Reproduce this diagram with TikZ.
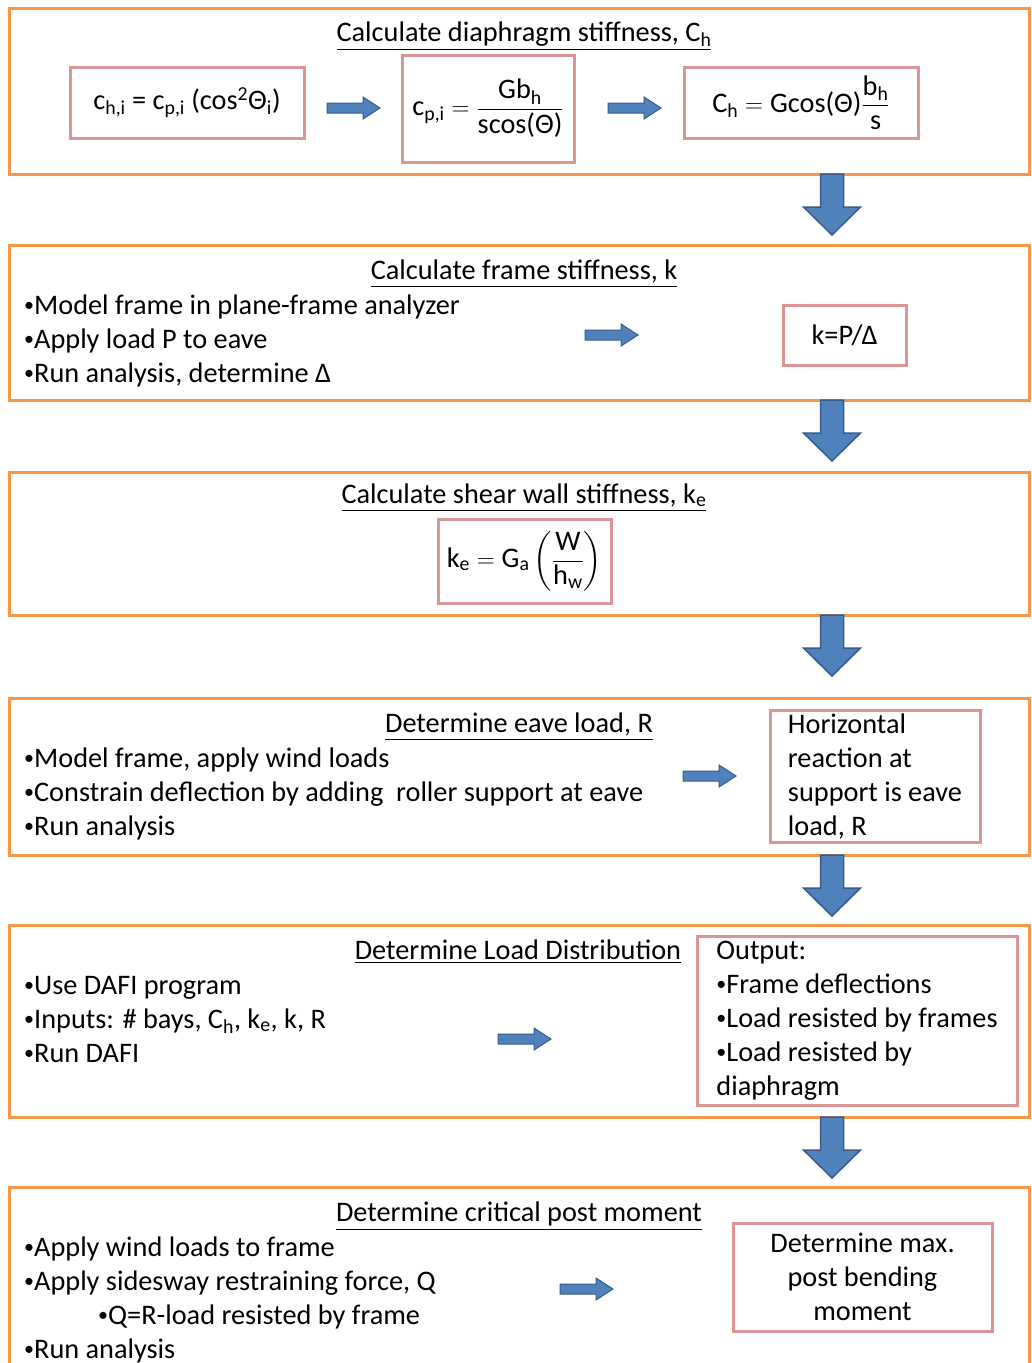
\documentclass[tikz,border=0pt]{standalone}
\usepackage{amsmath}
\usepackage{fontspec}
\setmainfont{Carlito}
\definecolor{orng}{HTML}{F79646}
\definecolor{pinkc}{HTML}{D99694}
\definecolor{arrfill}{HTML}{4F81BD}
\definecolor{arrdraw}{HTML}{385D8A}
\newcommand\fsz{\fontsize{28.3}{34}\selectfont}
\newcommand\bul{{\fontsize{20}{34}\selectfont\raisebox{2.6pt}{•}}}
\begin{document}
\begin{tikzpicture}[x=1pt,y=-1pt,font=\fsz,
  stage/.style={draw=orng,line width=3pt,minimum width=1020pt,outer sep=0pt,inner sep=0pt},
  pinkbox/.style={draw=pinkc,line width=3pt,outer sep=0pt,inner sep=0pt},
  txt/.style={inner sep=0pt,anchor=base west},
  ttl/.style={inner sep=0pt,anchor=base},
  bigarr/.style={fill=arrfill,draw=arrdraw,line width=1.5pt,line join=miter},
  smallarr/.style={fill=arrfill,draw=arrdraw,line width=1pt,line join=miter}]
\useasboundingbox[fill=white] (0,0) rectangle (1031,1363);

% stage boxes
\node[stage,minimum height=166pt] (s1) at (519,91) {};
\node[stage,minimum height=155pt] (s2) at (519,322.5) {};
\node[stage,minimum height=143pt] (s3) at (519,543.5) {};
\node[stage,minimum height=157pt] (s4) at (519,776.5) {};
\node[stage,minimum height=192pt] (s5) at (519,1021) {};
\node[stage,minimum height=186pt] (s6) at (519,1280) {};

% titles
\node[ttl] (t1) at (524,41) {\underline{Calculate diaphragm stiffness, C\textsubscript{h}}};
\node[ttl] (t2) at (524,279) {\underline{Calculate frame stiffness, k}};
\node[ttl] (t3) at (524,503) {\underline{Calculate shear wall stiffness, k\textsubscript{e}}};
\node[ttl] (t4) at (519,732) {\underline{Determine eave load, R}};
\node[ttl] (t5) at (518,959) {\underline{Determine Load Distribution}};
\node[ttl] (t6) at (519,1221) {\underline{Determine critical post moment}};

% stage 1 formulas
\node[pinkbox,minimum width=234pt,minimum height=71pt] (p1) at (187,102.5)
  {c\textsubscript{h,i} = c\textsubscript{p,i} (cos\textsuperscript{2}Θ\textsubscript{i})};
\node[pinkbox,minimum width=172pt,minimum height=107pt] (p2) at (488,108.5)
  {$\mbox{c\textsubscript{p,i}}=\dfrac{\mbox{Gb\textsubscript{h}}}{\mbox{scos(Θ)}}$};
\node[pinkbox,minimum width=234pt,minimum height=71pt] (p3) at (801,102.5)
  {$\mbox{C\textsubscript{h}}=\mbox{Gcos(Θ)}\dfrac{\mbox{b\textsubscript{h}}}{\mbox{s}}$};

% stage 2
\node[txt] (l21) at (24,314) {\bul Model frame in plane-frame analyzer};
\node[txt] (l22) at (24,348) {\bul Apply load P to eave};
\node[txt] (l23) at (24,382) {\bul Run analysis, determine Δ};
\node[pinkbox,minimum width=123pt,minimum height=60pt] (p4) at (844.5,335) {k=P/Δ};

% stage 3
\node[pinkbox,minimum width=173pt,minimum height=84pt] (p5) at (524.5,561)
  {$\mbox{k\textsubscript{e}}=\mbox{G\textsubscript{a}}\left(\dfrac{\mbox{W}}{\mbox{h\textsubscript{w}}}\right)$};

% stage 4
\node[txt] (l41) at (24,767) {\bul Model frame, apply wind loads};
\node[txt] (l42) at (24,801) {\bul Constrain deflection by adding\ \ roller support at eave};
\node[txt] (l43) at (24,835) {\bul Run analysis};
\node[pinkbox,minimum width=210pt,minimum height=132pt,align=left] (p6) at (875,776)
  {Horizontal\\reaction at\\support is eave\\load, R};

% stage 5
\node[txt] (l51) at (24,994) {\bul Use DAFI program};
\node[txt] (l52) at (24,1028) {\bul Inputs: \# bays, C\textsubscript{h}, k\textsubscript{e}, k, R};
\node[txt] (l53) at (24,1062) {\bul Run DAFI};
\node[pinkbox,minimum width=320pt,minimum height=169pt,align=left] (p7) at (857,1020.5)
  {Output:\\\bul Frame deflections\\\bul Load resisted by frames\\\bul Load resisted by\\diaphragm};

% stage 6
\node[txt] (l61) at (24,1256) {\bul Apply wind loads to frame};
\node[txt] (l62) at (24,1290) {\bul Apply sidesway restraining force, Q};
\node[txt] (l63) at (98,1324) {\bul Q=R-load resisted by frame};
\node[txt] (l64) at (24,1358) {\bul Run analysis};
\node[pinkbox,minimum width=259pt,minimum height=108pt,align=center] (p8) at (862.5,1277)
  {Determine max.\\post bending\\moment};

% small right arrows
\coordinate (r1) at (327,108);
\coordinate (r2) at (608,108);
\coordinate (r3) at (585,335);
\coordinate (r4) at (683,776);
\coordinate (r5) at (498,1039);
\coordinate (r6) at (560,1289);
\foreach \r in {r1,r2,r3,r4,r5,r6}{
  \draw[smallarr] (\r) ++(0,-5) -- ++(36,0) -- ++(0,-6) -- ++(17,11) -- ++(-17,11) -- ++(0,-6) -- ++(-36,0) -- cycle;
}

% big down arrows
\coordinate (ax) at (832,0);
\foreach \s in {s1,s2,s3,s4,s5}{
  \draw[bigarr] (\s.south -| ax) ++(-11.5,0) -- ++(23,0) -- ++(0,33) -- ++(17,0) -- ++(-28.5,28) -- ++(-28.5,-28) -- ++(17,0) -- cycle;
}
\end{tikzpicture}
\end{document}
